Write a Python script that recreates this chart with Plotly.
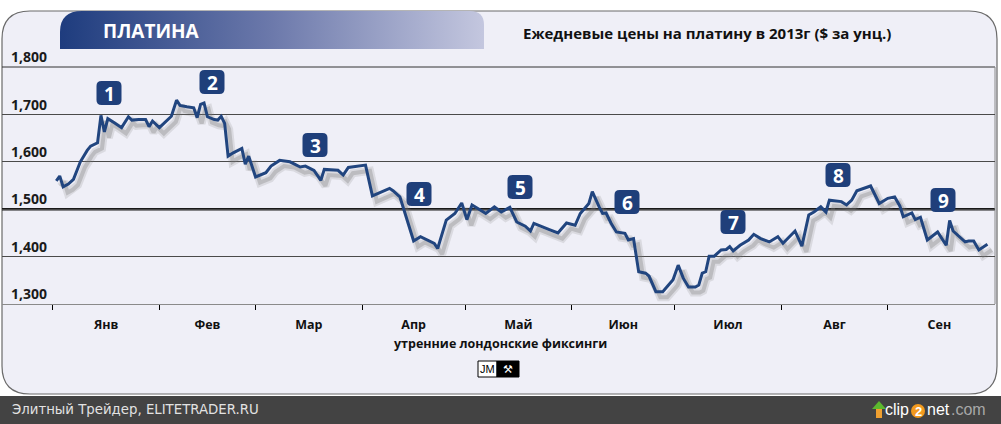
import base64
import plotly.graph_objects as go

# ---------------- data ----------------
day_of_year = [2, 3, 4, 5.5, 7, 9, 11, 12, 14, 15, 16, 17, 19, 21, 23, 24, 26, 28, 29, 30,
               32, 34, 35.5, 37, 38, 40, 42, 43, 44, 45, 46, 48, 49, 50, 51, 52, 53.5, 56, 57, 58,
               60, 63, 64.5, 67, 70, 73, 74.5, 77, 79, 80, 84, 85.5, 87, 92, 94, 99, 100, 102,
               106, 108, 110, 112, 113, 115.5, 118, 120, 121.5, 123, 125.5, 127, 129.5, 131.5,
               134, 136, 138.5, 140, 141, 143.5, 145.5, 148, 150.5, 153, 154.5, 157, 158, 160,
               161, 162, 163.5, 165, 167.5, 168.5, 170, 171.5, 173.5, 174.5, 176.5, 178.5,
               181.5, 183, 184.5, 186, 188, 189, 190, 191, 192, 193.5, 195.5, 197, 198, 199,
               201, 203.5, 205, 207, 209.5, 212, 213.5, 217, 219, 221, 222.5, 224.5, 226, 227,
               230.5, 232, 233.5, 235, 239, 241.5, 244, 246, 247.5, 248.5, 251, 252, 253.5,
               255.5, 258.5, 261, 262, 263, 266.5, 267.5, 269, 270.5, 273]
price_usd = [1560, 1570, 1547, 1553, 1563, 1600, 1624, 1633, 1640, 1698, 1663, 1691, 1682, 1672,
             1695, 1688, 1689, 1689, 1674, 1686, 1672, 1686, 1696, 1730, 1719, 1716, 1714, 1693,
             1721, 1724, 1695, 1689, 1688, 1696, 1681, 1612, 1619, 1628, 1595, 1612, 1568, 1577,
             1591, 1603, 1600, 1589, 1591, 1582, 1561, 1584, 1582, 1572, 1588, 1593, 1528, 1544,
             1539, 1526, 1433, 1442, 1435, 1428, 1417, 1477, 1491, 1513, 1478, 1509, 1498, 1491,
             1505, 1494, 1504, 1473, 1464, 1454, 1470, 1462, 1457, 1450, 1471, 1466, 1491, 1512,
             1537, 1505, 1491, 1492, 1470, 1452, 1449, 1435, 1438, 1368, 1365, 1359, 1326, 1326,
             1351, 1382, 1354, 1336, 1336, 1340, 1365, 1368, 1401, 1401, 1414, 1415, 1421, 1412,
             1424, 1435, 1447, 1438, 1431, 1442, 1428, 1454, 1422, 1488, 1494, 1505, 1494, 1519,
             1516, 1509, 1519, 1539, 1549, 1512, 1523, 1526, 1507, 1484, 1492, 1478, 1483, 1435,
             1452, 1424, 1476, 1454, 1431, 1433, 1433, 1414, 1426]

month_names = ["Янв", "Фев", "Мар", "Апр", "Май", "Июн", "Июл", "Авг", "Сен"]
month_starts = [1, 32, 60, 91, 121, 152, 182, 213, 244, 274]  # day-of-year of 1st of month (last = 1 Oct)
y_ticks = [1300, 1400, 1500, 1600, 1700, 1800]
badge_labels = ["1", "2", "3", "4", "5", "6", "7", "8", "9"]

title_left = "ПЛАТИНА"
title_right = "Ежедневые цены на платину в 2013г ($ за унц.)"
x_caption = "утренние лондонские фиксинги"
footer = "Элитный Трейдер, ELITETRADER.RU"

# ---------------- layout geometry helpers ----------------
W, H = 1001, 424
L, R, T, B = 2, 6, 67, 120
PW, PH = W - L - R, H - T - B


def px(x):
    return (x - L) / PW


def py(y):
    return (H - B - y) / PH


def rrect_path(x0, y0, x1, y1, r):
    """rounded rectangle given in pixel coords -> path in paper coords"""
    pts = [
        ("M", [(x0 + r, y0)]), ("L", [(x1 - r, y0)]), ("Q", [(x1, y0), (x1, y0 + r)]),
        ("L", [(x1, y1 - r)]), ("Q", [(x1, y1), (x1 - r, y1)]), ("L", [(x0 + r, y1)]),
        ("Q", [(x0, y1), (x0, y1 - r)]), ("L", [(x0, y0 + r)]), ("Q", [(x0, y0), (x0 + r, y0)]),
    ]
    s = ""
    for cmd, ps in pts:
        s += cmd + " " + " ".join(f"{px(a):.5f},{py(b):.5f}" for a, b in ps) + " "
    return s + "Z"


FONT = "Open Sans"
BLUE = "#21457f"

fig = go.Figure()

# shadow of the line
sh_x = [d + 1.3 for d in day_of_year]
sh_y = [p - 12 for p in price_usd]
fig.add_trace(go.Scatter(x=sh_x, y=sh_y, mode="lines",
                         line=dict(color="rgba(120,120,120,0.18)", width=8),
                         hoverinfo="skip", showlegend=False))
fig.add_trace(go.Scatter(x=sh_x, y=sh_y, mode="lines",
                         line=dict(color="rgba(120,120,120,0.30)", width=4),
                         hoverinfo="skip", showlegend=False))
# main line
fig.add_trace(go.Scatter(x=day_of_year, y=price_usd, mode="lines",
                         line=dict(color=BLUE, width=3), showlegend=False,
                         name="Платина"))
# dummy trace on xaxis2 so the tick axis renders
fig.add_trace(go.Scatter(x=[month_starts[0]], y=[None], xaxis="x2", mode="lines",
                         showlegend=False, hoverinfo="skip"))

month_mids = [(month_starts[i] + month_starts[i + 1]) / 2 for i in range(len(month_names))]

shapes = []
# panel
shapes.append(dict(type="path", xref="paper", yref="paper", layer="below",
                   path=rrect_path(2, 11, 997, 394, 28),
                   fillcolor="#efeff7", line=dict(color="#6a6a6a", width=1.2)))
# thick 1500 line
shapes.append(dict(type="line", xref="paper", yref="y", x0=0, x1=1, y0=1500, y1=1500,
                   layer="below", line=dict(color="#1a1a1a", width=2.5)))
# top (1800) line
shapes.append(dict(type="line", xref="paper", yref="paper", x0=0, x1=1, y0=1, y1=1,
                   layer="below", line=dict(color="#333333", width=1)))
# right border of plot
shapes.append(dict(type="line", xref="paper", yref="paper", x0=1, x1=1, y0=0, y1=1,
                   layer="below", line=dict(color="#8a8a8a", width=1)))
# footer bar
shapes.append(dict(type="rect", xref="paper", yref="paper", layer="above",
                   x0=px(-2), x1=px(W + 2), y0=py(396), y1=py(H + 2),
                   fillcolor="#434343", line=dict(width=0)))
# clip2net arrow + circle
shapes.append(dict(type="path", xref="paper", yref="paper", layer="above",
                   path=f"M {px(879)},{py(401)} L {px(886)},{py(409)} L {px(872)},{py(409)} Z",
                   fillcolor="#5cb82e", line=dict(width=0)))
shapes.append(dict(type="rect", xref="paper", yref="paper", layer="above",
                   x0=px(876), x1=px(882), y0=py(418), y1=py(409),
                   fillcolor="#f0a030", line=dict(width=0)))
shapes.append(dict(type="circle", xref="paper", yref="paper", layer="above",
                   x0=px(911), x1=px(925), y0=py(418), y1=py(404),
                   fillcolor="#f39a1e", line=dict(width=0)))
# JM logo boxes
shapes.append(dict(type="rect", xref="paper", yref="paper", layer="above",
                   x0=px(478), x1=px(497), y0=py(377), y1=py(361),
                   fillcolor="white", line=dict(color="black", width=1)))
shapes.append(dict(type="rect", xref="paper", yref="paper", layer="above",
                   x0=px(497), x1=px(519), y0=py(377), y1=py(361),
                   fillcolor="black", line=dict(color="black", width=1)))

# badges (pixel centres)
badge_px = [(109, 93), (212, 82), (315, 145), (419, 194), (520, 187),
            (627, 202), (733, 222), (838, 175), (943, 200)]
annotations = []
for lab, (cx, cy) in zip(badge_labels, badge_px):
    shapes.append(dict(type="path", xref="paper", yref="paper", layer="above",
                       path=rrect_path(cx - 12.5, cy - 12, cx + 12.5, cy + 12, 5),
                       fillcolor="#1f3f7a", line=dict(width=0)))
    annotations.append(dict(xref="paper", yref="paper", x=px(cx), y=py(cy + 1), text=lab,
                            showarrow=False, xanchor="center", yanchor="middle",
                            font=dict(family=FONT, size=19, color="white", weight="bold")))

# header gradient tab (svg image)
svg = ('<svg xmlns="http://www.w3.org/2000/svg" width="424" height="38" viewBox="0 0 424 38">'
       '<defs><linearGradient id="g" x1="0" y1="0" x2="1" y2="0">'
       '<stop offset="0" stop-color="#1e3c7e"/><stop offset="0.5" stop-color="#6c79ab"/>'
       '<stop offset="1" stop-color="#c4c7df"/></linearGradient></defs>'
       '<path d="M0,38 L0,21 Q0,0 22,0 L410,0 Q424,0 424,14 L424,38 Z" fill="url(#g)"/></svg>')
img_src = "data:image/svg+xml;base64," + base64.b64encode(svg.encode()).decode()
images = [dict(source=img_src, xref="paper", yref="paper", x=px(60), y=py(11),
               sizex=424 / PW, sizey=38 / PH, xanchor="left", yanchor="top",
               sizing="stretch", layer="above")]

annotations += [
    dict(xref="paper", yref="paper", x=px(151), y=py(31), text=title_left, showarrow=False,
         xanchor="center", yanchor="middle",
         font=dict(family=FONT, size=19, color="white", weight="bold")),
    dict(xref="paper", yref="paper", x=px(707), y=py(33), text=title_right, showarrow=False,
         xanchor="center", yanchor="middle",
         font=dict(family=FONT, size=15, color="#111111", weight="bold")),
    dict(xref="paper", yref="paper", x=px(500), y=py(343), text=x_caption, showarrow=False,
         xanchor="center", yanchor="middle",
         font=dict(family=FONT, size=12.5, color="#111111", weight="bold")),
    dict(xref="paper", yref="paper", x=px(487.5), y=py(369), text="JM", showarrow=False,
         xanchor="center", yanchor="middle",
         font=dict(family="Liberation Sans", size=11, color="black")),
    dict(xref="paper", yref="paper", x=px(508), y=py(369), text="⚒", showarrow=False,
         xanchor="center", yanchor="middle",
         font=dict(family="DejaVu Sans", size=11, color="white")),
    dict(xref="paper", yref="paper", x=px(10), y=py(410), text=footer, showarrow=False,
         xanchor="left", yanchor="middle",
         font=dict(family="DejaVu Sans", size=13.3, color="#e2e2e2")),
    dict(xref="paper", yref="paper", x=px(911), y=py(410), text="clip", showarrow=False,
         xanchor="right", yanchor="middle",
         font=dict(family="Liberation Sans", size=16, color="white")),
    dict(xref="paper", yref="paper", x=px(918), y=py(411), text="2", showarrow=False,
         xanchor="center", yanchor="middle",
         font=dict(family="Liberation Sans", size=13, color="white", weight="bold")),
    dict(xref="paper", yref="paper", x=px(925), y=py(410), text="net", showarrow=False,
         xanchor="left", yanchor="middle",
         font=dict(family="Liberation Sans", size=16, color="white")),
    dict(xref="paper", yref="paper", x=px(949), y=py(410), text=".com", showarrow=False,
         xanchor="left", yanchor="middle",
         font=dict(family="Liberation Sans", size=16, color="#a8a8a8")),
]

x_lo, x_hi = -13.8, 275.2
fig.update_layout(
    width=W, height=H,
    margin=dict(l=L, r=R, t=T, b=B, pad=0),
    paper_bgcolor="white",
    plot_bgcolor="rgba(0,0,0,0)",
    showlegend=False,
    xaxis=dict(range=[x_lo, x_hi], tickvals=month_mids, ticktext=month_names,
               ticks="", showgrid=False, zeroline=False, showline=True,
               linecolor="#8a8a8a", linewidth=1, ticklabelstandoff=9,
               tickfont=dict(family=FONT, size=12.5, color="#111111", weight="bold")),
    xaxis2=dict(overlaying="x", matches="x", anchor="y", side="bottom",
                tickvals=month_starts[:-1], ticks="outside", ticklen=5, tickwidth=1,
                tickcolor="black", showticklabels=False, showgrid=False,
                zeroline=False, showline=False),
    yaxis=dict(range=[1300, 1800], tickvals=y_ticks, tickformat=",", ticks="",
               showgrid=True, gridcolor="#4a4a4a", gridwidth=1, zeroline=False,
               showline=False, ticklabelposition="inside top", ticklabeloverflow="allow",
               ticklabelstandoff=6,
               tickfont=dict(family=FONT, size=14, color="#1a1a1a", weight="bold")),
    shapes=shapes,
    annotations=annotations,
    images=images,
)

fig.write_html("out.html", config={"displayModeBar": False},
               post_script="document.body.style.margin='0';document.body.style.overflow='hidden';")
